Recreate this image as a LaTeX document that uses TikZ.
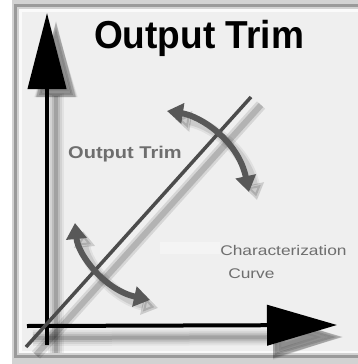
\documentclass[tikz,border=0pt]{standalone}
\usepackage{fontspec}
\setmainfont{Liberation Sans}
\usetikzlibrary{arrows.meta}
\definecolor{bgc}{HTML}{EFEFEF}
\definecolor{framec}{HTML}{9A9A9A}
\definecolor{bandc}{HTML}{D2D2D2}
\definecolor{diagc}{HTML}{4C4C4C}
\definecolor{arrc}{HTML}{585858}
\definecolor{labc}{HTML}{6E6E6E}
\tikzset{
  yhead/.style={-{Triangle[length=76pt,width=38pt]}},
  xhead/.style={-{Triangle[length=70pt,width=40pt]}},
  trimtips/.style={{Triangle[length=16pt,width=20pt]}-{Triangle[length=16pt,width=20pt]}},
  trimarrow/.style={line width=6pt,trimtips},
  lab/.style={text=labc,font=\fontsize{14}{14}\selectfont,xscale=1.24,inner sep=0pt},
}
\begin{document}
\begin{tikzpicture}[x=1pt,y=-1pt]
\useasboundingbox (0,0) rectangle (358,364);
% frame
\fill[white] (0,0) rectangle (358,364);
\fill[bandc] (12,0) rectangle (358,364);
\draw[framec,line width=3pt] (358,5.5) -- (15.5,5.5) -- (15.5,356.5) -- (358,356.5);
\fill[white!70!bgc] (19,9) rectangle (358,353);
\fill[bgc] (22,12) rectangle (358,351);
\fill[white!30!bgc] (160,242) rectangle (220,254);

% coordinates
\coordinate (ybot) at (47,345);
\coordinate (ytop) at (47,13);
\coordinate (xl) at (27,326);
\coordinate (xr) at (337,325);
\coordinate (d0) at (26,347);
\coordinate (d1) at (251,97);
\coordinate (ua) at (167,111);
\coordinate (ub) at (249,192);
\coordinate (la) at (75,223);
\coordinate (lb) at (150,300);

% shadows of axes
\foreach \w/\o in {16/0.05,12/0.07,8/0.1,4/0.14}{
  \draw[black,opacity=\o,line width=\w pt,yhead] ([shift={(9,8)}]ybot) -- ([shift={(9,8)}]ytop);
  \draw[black,opacity=\o,line width=\w pt,xhead] ([shift={(6,12)}]xl) -- ([shift={(6,12)}]xr);
}
% shadow of diagonal
\draw[black,opacity=0.16,line width=6pt] ([shift={(10,8)}]d0) -- ([shift={(10,8)}]d1);
\draw[black,opacity=0.10,line width=11pt] ([shift={(10,8)}]d0) -- ([shift={(10,8)}]d1);
% shadows of trim arrows
\foreach \w/\o in {12/0.06,8/0.09}{
  \draw[black,opacity=\o,line width=\w pt,trimtips]
    ([shift={(8,8)}]ua) .. controls (208,124) and (246,148) .. ([shift={(8,8)}]ub);
  \draw[black,opacity=\o,line width=\w pt,trimtips]
    ([shift={(8,8)}]la) .. controls (86,263) and (113,298) .. ([shift={(8,8)}]lb);
}

% axes
\draw[black,line width=4pt,yhead] (ybot) -- (ytop);
\draw[black,line width=4pt,xhead] (xl) -- (xr);
% diagonal characterization curve
\draw[diagc,line width=3.5pt] (d0) -- (d1);
% trim arrows
\draw[arrc,trimarrow] (ua) .. controls (200,116) and (238,140) .. (ub);
\draw[arrc,trimarrow] (la) .. controls (78,255) and (105,290) .. (lb);

% texts
\node[anchor=base,inner sep=0pt,xscale=0.95,font=\fontsize{39}{39}\selectfont\bfseries] (title) at (199,48) {Output Trim};
\node[lab,anchor=base west,font=\fontsize{17}{17}\selectfont\bfseries,xscale=0.95] (ot) at (68,158) {Output Trim};
\node[lab,anchor=base west] (cc) at (220,255) {Characterization};
\node[lab,anchor=base west] (cu) at (228,278) {Curve};
\end{tikzpicture}
\end{document}
